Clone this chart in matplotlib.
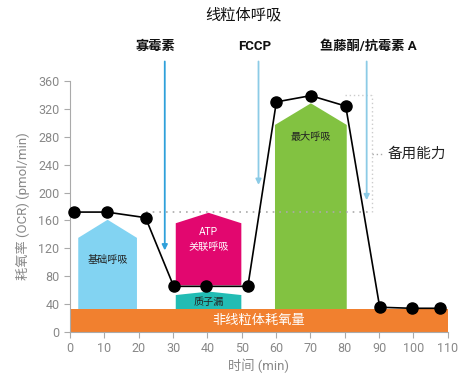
import matplotlib
matplotlib.use("Agg")
import matplotlib.pyplot as plt

plt.rcParams['font.family'] = ['Roboto', 'Noto Sans CJK SC', 'DejaVu Sans']

# data
time_pts = [1.3, 10.7, 22.0, 30.2, 39.5, 51.8, 60.1, 70.1, 80.3, 90.2, 99.5, 107.8]
ocr_pts = [172, 172, 164, 65.5, 65.5, 65.5, 330, 339, 324, 35.5, 34, 34]

nonmito_level = 33
# regions: (x0, x1, bottom, shoulder, peak)
basal = dict(x0=2.4, x1=19.5, bottom=0, shoulder=135, peak=161)
atp = dict(x0=30.8, x1=49.9, bottom=67, shoulder=156, peak=171)
leak = dict(x0=30.8, x1=49.9, bottom=0, shoulder=53, peak=58)
maxr = dict(x0=59.7, x1=80.6, bottom=0, shoulder=297, peak=328)

inj_x = [27.6, 54.9, 86.4]
inj_end = [117, 211, 189]
inj_labels = ['寡霉素', 'FCCP', '鱼藤酮/抗霉素 A']
inj_colors = ['#2fa0da', '#8ccbe6', '#8ccbe6']

xticks = list(range(0, 111, 10))
yticks = list(range(0, 361, 40))

fig = plt.figure(figsize=(4.69, 3.86), dpi=100)
ax = fig.add_axes([70/469, 54/386, 377.7/469, 251/386])
ax.set_xlim(0, 110)
ax.set_ylim(0, 360)

def house(r, color):
    xm = (r['x0'] + r['x1']) / 2
    xs = [r['x0'], r['x0'], xm, r['x1'], r['x1']]
    ys = [r['bottom'], r['shoulder'], r['peak'], r['shoulder'], r['bottom']]
    ax.fill(xs, ys, color=color, lw=0, zorder=1)
    return xm

xm = house(basal, '#82d3f2')
ax.text(xm, 104, '基础呼吸', ha='center', va='center', fontsize=7.3, color='#222')
xm = house(atp, '#e2076f')
ax.text(xm, 143, 'ATP', ha='center', va='center', fontsize=7.3, color='white')
ax.text(xm, 122, '关联呼吸', ha='center', va='center', fontsize=7.3, color='white')
xm = house(leak, '#22bcb4')
ax.text(xm, 43, '质子漏', ha='center', va='center', fontsize=7.3, color='#222')
xm = house(maxr, '#82c241')
ax.text(xm, 280, '最大呼吸', ha='center', va='center', fontsize=7.3, color='#222')

ax.fill_between([0, 110], 0, nonmito_level, color='#f1802f', lw=0, zorder=2)
ax.text(55, 16, '非线粒体耗氧量', ha='center', va='center', fontsize=9.5, color='white', zorder=3)

# dotted spare capacity guides
base_lvl = ocr_pts[0]
max_lvl = max(ocr_pts)
ax.plot([time_pts[2], 88], [base_lvl, base_lvl], ls=(0, (1, 3)), color='#aaaaaa', lw=1.2, zorder=1.5, clip_on=False)
ax.plot([88, 88], [base_lvl, max_lvl + 1], ls=(0, (1, 2)), color='#cccccc', lw=1, zorder=1.5, clip_on=False)
ax.plot([80, 88], [max_lvl + 1, max_lvl + 1], ls=(0, (1, 2)), color='#cccccc', lw=1, zorder=1.5, clip_on=False)
ax.plot([88, 91.5], [256, 256], ls=(0, (1, 2)), color='#aaaaaa', lw=1, zorder=1.5, clip_on=False)
ax.text(92.5, 256, '备用能力', ha='left', va='center', fontsize=10.5, color='#222')

# injection arrows
for x, ye, lab, c in zip(inj_x, inj_end, inj_labels, inj_colors):
    ax.annotate('', xy=(x, ye), xytext=(x, 388), xycoords='data',
                arrowprops=dict(arrowstyle='-|>', color=c, lw=1.3, mutation_scale=8,
                                shrinkA=0, shrinkB=0), annotation_clip=False, zorder=4)
ax.text(24.8, 400, inj_labels[0], ha='center', va='bottom', fontsize=9.5, fontweight='bold', color='#111')
ax.text(53.8, 400, inj_labels[1], ha='center', va='bottom', fontsize=9.5, fontweight='bold', color='#111')
ax.text(86.8, 400, inj_labels[2], ha='center', va='bottom', fontsize=9.5, fontweight='bold', color='#111')

ax.plot(time_pts, ocr_pts, color='black', lw=1.2, marker='o', ms=8, zorder=5, clip_on=False)

fig.text(243/469, 1 - 15/386, '线粒体呼吸', ha='center', va='center', fontsize=11, color='#111')

ax.set_xticks(xticks)
ax.set_yticks(yticks)
for s in ['top', 'right']:
    ax.spines[s].set_visible(False)
for s in ['left', 'bottom']:
    ax.spines[s].set_color('#aaaaaa')
ax.tick_params(colors='#aaaaaa', labelcolor='#888888', labelsize=9, length=4)
ax.set_xlabel('时间 (min)', fontsize=9.5, color='#888888', labelpad=2)
ax.set_ylabel('耗氧率 (OCR) (pmol/min)', fontsize=9.5, color='#888888', labelpad=6)

fig.savefig('out.png', dpi=100)
